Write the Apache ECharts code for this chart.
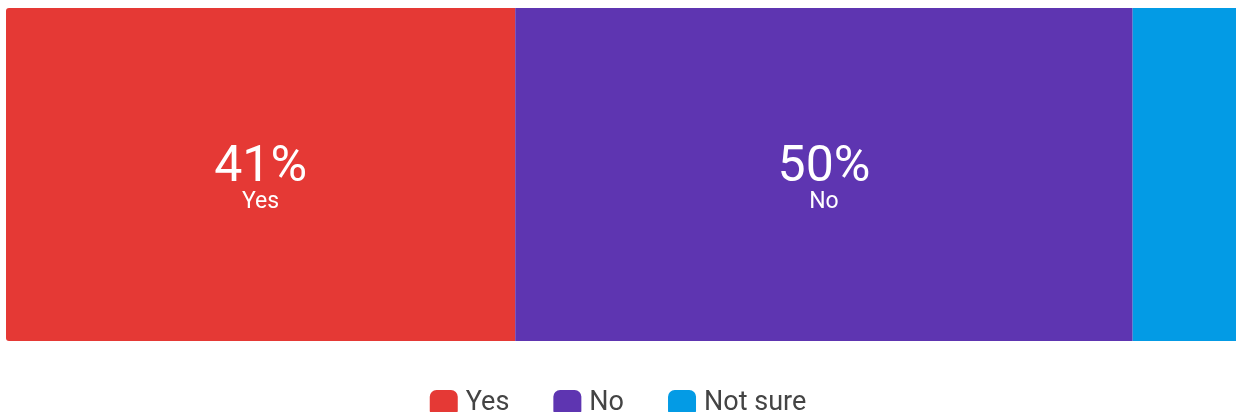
<!DOCTYPE html>
<html>
<head>
<meta charset="utf-8">
<script src="https://cdn.jsdelivr.net/npm/echarts@6/dist/echarts.min.js"></script>
<style>
html,body{margin:0;padding:0;background:#fff;}
#chart{width:1236px;height:412px;}
</style>
</head>
<body>
<div id="chart"></div>
<script>
const categories = ['Yes', 'No', 'Not sure'];
const values = [41.4, 50.2, 8.4];
const showLabel = [true, true, false];
const colors = ['#E53935', '#5E35B1', '#039BE5'];

const chart = echarts.init(document.getElementById('chart'));
const series = categories.map((name, i) => ({
  name: name,
  type: 'bar',
  stack: 'total',
  barWidth: '100%',
  data: [values[i]],
  itemStyle: {
    color: colors[i],
    borderRadius: i === 0 ? [3, 0, 0, 3] : 0
  },
  label: {
    show: showLabel[i],
    position: 'inside',
    offset: [0, 5],
    formatter: p => '{v|' + Math.round(p.value) + '%}\n{n|' + p.seriesName + '}',
    rich: {
      v: { fontSize: 50, color: '#fff', fontFamily: 'Roboto', lineHeight: 46, align: 'center' },
      n: { fontSize: 23, color: '#fff', fontFamily: 'Roboto', lineHeight: 22, align: 'center' }
    }
  }
}));

chart.setOption({
  animation: false,
  grid: { left: 6, right: 0, top: 8, height: 333 },
  xAxis: { type: 'value', min: 0, max: 100, show: false },
  yAxis: { type: 'category', data: [''], show: false },
  legend: {
    data: categories,
    top: 385,
    left: 'center',
    icon: 'roundRect',
    itemWidth: 28,
    itemHeight: 27,
    itemGap: 44,
    textStyle: { fontSize: 27, color: '#444', fontFamily: 'Roboto', padding: [0, 0, 0, 3] }
  },
  series: series
});
</script>
</body>
</html>
